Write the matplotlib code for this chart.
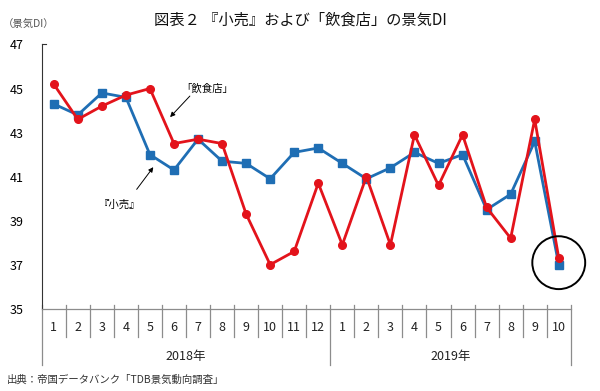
import matplotlib
matplotlib.use("Agg")
import matplotlib.pyplot as plt

plt.rcParams['font.family'] = ['Noto Sans CJK JP', 'DejaVu Sans']

# ==========================================================
# Data (景気DI)
# ==========================================================

months = ["1", "2", "3", "4", "5", "6", "7", "8", "9", "10", "11", "12",
          "1", "2", "3", "4", "5", "6", "7", "8", "9", "10"]
years = ["2018年", "2019年"]
year_months = [12, 10]

retail = [44.3, 43.8, 44.8, 44.6, 42.0, 41.3, 42.7, 41.7, 41.6, 40.9, 42.1,
          42.3, 41.6, 40.9, 41.4, 42.1, 41.6, 42.0, 39.5, 40.2, 42.6, 37.0]
restaurant = [45.2, 43.6, 44.2, 44.7, 45.0, 42.5, 42.7, 42.5, 39.3, 37.0, 37.6,
              40.7, 37.9, 41.0, 37.9, 42.9, 40.6, 42.9, 39.6, 38.2, 43.6, 37.3]

yticks = [35, 37, 39, 41, 43, 45, 47]

BLUE = "#1f6eb4"
RED = "#e3131b"
GRID = "#8c8c8c"

x = list(range(len(months)))

# ==========================================================
# Figure
# ==========================================================

fig = plt.figure(figsize=(6.0, 3.91), dpi=100)
ax = fig.add_axes([0.0695, 0.2105, 0.8818, 0.6757])

ax.plot(x, retail, color=BLUE, lw=2.0, marker="s", markersize=5.5, zorder=3)
ax.plot(x, restaurant, color=RED, lw=2.0, marker="o", markersize=5.5, zorder=4)

ax.set_xlim(-0.5, len(months) - 0.5)
ax.set_ylim(35, 47)
ax.set_yticks(yticks)
ax.tick_params(axis="y", length=0, pad=13, labelsize=9)
ax.set_xticks([])

for side in ["top", "right"]:
    ax.spines[side].set_visible(False)
ax.spines["left"].set_color("#333333")
ax.spines["left"].set_linewidth(0.8)
ax.spines["bottom"].set_color(GRID)
ax.spines["bottom"].set_linewidth(0.9)

# little tick at the top of the y axis
ax.plot([0, 0.008], [1, 1], transform=ax.transAxes, color="#333333",
        lw=0.8, clip_on=False)

# ==========================================================
# Category axis (months / years)
# ==========================================================

trans = ax.get_xaxis_transform()
year_edges = [-0.5]
for n in year_months:
    year_edges.append(year_edges[-1] + n)

for k in range(1, len(months)):
    edge = k - 0.5
    if edge in year_edges:
        continue
    ax.plot([edge, edge], [0.014, -0.106], transform=trans, color=GRID,
            lw=0.9, clip_on=False)

for edge in year_edges:
    ax.plot([edge, edge], [0.014, -0.213], transform=trans, color=GRID,
            lw=0.9, clip_on=False)

for i, m in enumerate(months):
    ax.text(i, -0.072, m, transform=trans, ha="center", va="center",
            fontsize=9, color="#222222")

for j, label in enumerate(years):
    mid = (year_edges[j] + year_edges[j + 1]) / 2
    ax.text(mid, -0.182, label, transform=trans, ha="center", va="center",
            fontsize=9, color="#222222")

# ==========================================================
# Annotations
# ==========================================================

ax.text(6.39, 45.0, "「飲食店」", ha="center", va="center", fontsize=7.5)
ax.annotate("", xy=(4.76, 43.61), xytext=(5.74, 44.75),
            arrowprops=dict(arrowstyle="-|>", color="black", lw=0.7,
                            mutation_scale=7))

ax.text(2.72, 39.71, "『小売』", ha="center", va="center", fontsize=7.5)
ax.annotate("", xy=(4.21, 41.53), xytext=(3.38, 40.32),
            arrowprops=dict(arrowstyle="-|>", color="black", lw=0.7,
                            mutation_scale=7))

# circle around the last month
ax.scatter([x[-1]], [37.09], s=1450, facecolors="none", edgecolors="black",
           linewidths=1.4, clip_on=False, zorder=5)

# ==========================================================
# Titles
# ==========================================================

fig.text(0.5, 1 - 20 / 391, "図表２ 『小売』および「飲食店」の景気DI",
         ha="center", va="center", fontsize=11, color="#111111")
fig.text(0.005, 1 - 25 / 391, "（景気DI）", ha="left", va="center",
         fontsize=7.5, color="#555555")
fig.text(0.011, 1 - 380 / 391, "出典：帝国データバンク「TDB景気動向調査」",
         ha="left", va="center", fontsize=7.5, color="#333333")

fig.savefig("out.png", dpi=100)
